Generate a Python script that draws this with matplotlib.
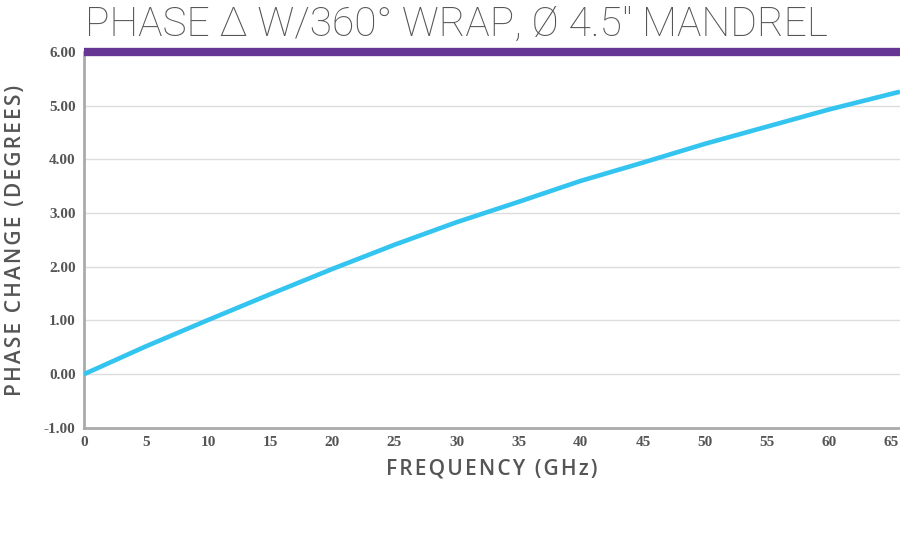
import numpy as np
import matplotlib.pyplot as plt

freq_ghz = [0, 5, 10, 15, 20, 25, 30, 35, 40, 45, 50, 55, 60, 65, 65.7]
phase_deg = [0.0, 0.52, 1.01, 1.49, 1.96, 2.41, 2.83, 3.21, 3.60, 3.94, 4.29, 4.61, 4.93, 5.22, 5.26]
x_ticks = [0, 5, 10, 15, 20, 25, 30, 35, 40, 45, 50, 55, 60, 65]
y_ticks = [-1, 0, 1, 2, 3, 4, 5, 6]
limit_deg = 6.0

fig = plt.figure(figsize=(9, 5.5), dpi=100)
ax = fig.add_axes([0.0933, 0.222, 0.9067, 0.6835])

ax.set_xlim(0, 65.7)
ax.set_ylim(-1, 6)
ax.set_xticks(x_ticks)
ax.set_yticks(y_ticks)
ax.set_yticklabels(['%.2f' % v for v in y_ticks])
ax.grid(axis='y', color='#dddddd', linewidth=1)
ax.set_axisbelow(True)

ax.plot(freq_ghz, phase_deg, color='#33c4f0', linewidth=3.3, solid_capstyle='butt', zorder=3)
ax.axhline(limit_deg, color='#663694', linewidth=6, zorder=4, clip_on=False, solid_capstyle='butt')

for s in ['top', 'right']:
    ax.spines[s].set_visible(False)
for s in ['left', 'bottom']:
    ax.spines[s].set_color('#aaaaaa')
    ax.spines[s].set_linewidth(2)

ax.tick_params(length=0, pad=6, labelsize=11, labelcolor='#555555')
for lab in ax.get_xticklabels() + ax.get_yticklabels():
    lab.set_family('Liberation Serif')
    lab.set_fontweight('bold')


def spaced(s):
    # small letter spacing like the original
    return '\u200a'.join(s)


ax.set_xlabel(spaced('FREQUENCY (GHz)'), fontsize=15, color='#555555',
              family=['Open Sans', 'DejaVu Sans'], fontweight='semibold', labelpad=7)
ax.set_ylabel(spaced('PHASE CHANGE (DEGREES)'), fontsize=15, color='#555555',
              family=['Open Sans', 'DejaVu Sans'], fontweight='semibold', labelpad=13)

fig.text(0.094, 0.935, 'PHASE \u0394 W/360\u00b0 WRAP, \u00d8 4.5" MANDREL', fontsize=29.3,
         color='#555555', family='Roboto', fontweight='light', ha='left', va='baseline')

fig.savefig('out.png', dpi=100)
